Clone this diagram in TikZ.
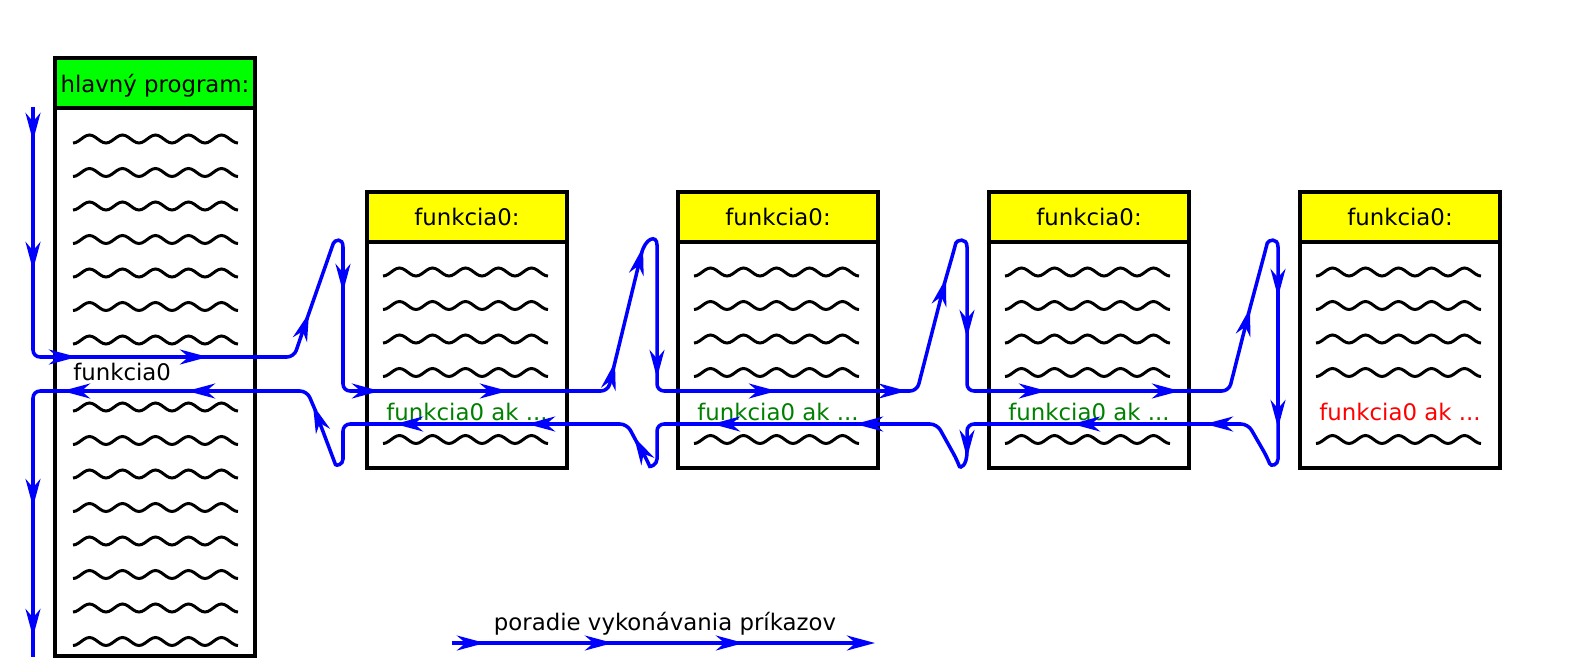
\documentclass[tikz,border=0pt]{standalone}
\usepackage{fontspec}
\setmainfont{DejaVu Sans}
\usetikzlibrary{arrows.meta}
\definecolor{headgreen}{RGB}{0,255,0}
\definecolor{headyellow}{RGB}{255,255,0}
\definecolor{okgreen}{RGB}{0,128,0}
\tikzset{
  box/.style={line width=2pt},
  flow/.style={draw=blue, line width=2pt, rounded corners=4pt, shorten <=-4pt},
  flowtip/.style={-{Stealth[length=16pt,width=8.5pt,inset=5pt]}},
  wavy/.style={line width=1.7pt},
  lbl/.style={font=\fontsize{13}{16}\selectfont, anchor=base, inner sep=0pt},
}
\newcommand{\wavyline}[2]{\draw[wavy] plot[domain=0:165,samples=61,smooth] ({#1+\x},{#2+4*cos(10.909*\x)});}

\begin{document}
\begin{tikzpicture}[x=0.02cm, y=-0.02cm]
\useasboundingbox (0,0) rectangle (1575,669);
\draw[box, fill=headgreen] (55,58) rectangle (255,108);
\draw[box] (55,108) rectangle (255,656);
\node[lbl] (main) at (155,92) {hlavný program:};
\node[lbl, anchor=base west] (call) at (73,380) {funkcia0};
\foreach \r in {0,1,2,3,4,5,6,8,9,10,11,12,13,14,15} {\wavyline{73}{139+33.5*\r}}
\foreach \k in {0,1,2,3}{
  \begin{scope}[shift={(311*\k,0)}]
  \draw[box, fill=headyellow] (367,192) rectangle (567,242);
  \draw[box] (367,242) rectangle (567,468);
  \node[lbl] (fhead\k) at (467,225) {funkcia0:};
  \node[lbl] (fcall\k) at (467,420) {\ifnum\k=3 \color{red}\else\color{okgreen}\fi funkcia0 ak ...};
  \foreach \r in {0,1,2,3,5} {\wavyline{383}{272+33.5*\r}}
  \end{scope}
}
% calls
\draw[flow,flowtip] (33,114) -- (33,141);
\draw[flow,flowtip] (33,141) -- (33,270);
\draw[flow,flowtip] (33,270) -- (33,357) -- (77,357);
\draw[flow,flowtip] (77,357) -- (208,357);
\draw[flow,flowtip] (208,357) -- (294,357) -- (309,313);
\draw[flow,flowtip] (309,313) -- (331,250) .. controls (334.5,240) and (343,237) .. (343,254) -- (343,292);
\draw[flow,flowtip] (343,292) -- (343,391) -- (380,391);
\draw[flow,flowtip] (380,391) -- (508,391);
\draw[flow,flowtip] (508,391) -- (608,391) -- (615,362);
\draw[flow,flowtip] (615,362) -- (643,247);
\draw[flow,flowtip] (643,247) .. controls (645,238) and (657,234) .. (657,252) -- (657,378);
\draw[flow,flowtip] (657,378) -- (657,391) -- (777,391);
\draw[flow,flowtip] (777,391) -- (907,391);
\draw[flow,flowtip] (907,391) -- (917,391) -- (946,278);
\draw[flow,flowtip] (946,278) -- (954,250) .. controls (956.6,240) and (967,237) .. (967,254) -- (967,338);
\draw[flow,flowtip] (967,338) -- (967,391) -- (1047,391);
\draw[flow,flowtip] (1047,391) -- (1180,391);
\draw[flow,flowtip] (1180,391) -- (1229,391) -- (1250,308);
\draw[flow,flowtip] (1250,308) -- (1265.5,250) .. controls (1268,240) and (1278,237) .. (1278,254) -- (1278,297);
\draw[flow,flowtip] (1278,297) -- (1278,428);
% returns
\draw[flow,flowtip] (1278,428) -- (1278,452) .. controls (1278,465) and (1271,467) .. (1267,457) -- (1248,424) -- (1205,424);
\draw[flow,flowtip] (1205,424) -- (1072,424);
\draw[flow,flowtip] (1072,424) -- (967,424) -- (967,458);
\draw[flow,flowtip] (967,458) .. controls (967,467) and (960,468) .. (957,460) -- (937,424) -- (855,424);
\draw[flow,flowtip] (855,424) -- (712,424);
\draw[flow,flowtip] (712,424) -- (657,424) -- (657,452) .. controls (657,465) and (650,467) .. (647,460) -- (634,437);
\draw[flow,flowtip] (634,437) -- (627,424) -- (527,424);
\draw[flow,flowtip] (527,424) -- (395,424);
\draw[flow,flowtip] (395,424) -- (343,424) -- (343,452) .. controls (343,465) and (336,466) .. (333,458) -- (313,405);
\draw[flow,flowtip] (313,405) -- (307,391) -- (187,391);
\draw[flow,flowtip] (187,391) -- (62,391);
\draw[flow,flowtip] (62,391) -- (33,391) -- (33,507);
\draw[flow,flowtip] (33,507) -- (33,637);
\draw[flow] (33,637) -- (33,657);
% legend
\draw[flow,flowtip] (459,643) -- (485,643);
\draw[flow,flowtip] (485,643) -- (613,643);
\draw[flow,flowtip] (613,643) -- (744,643);
\draw[flow,flowtip] (744,643) -- (875,643);
\node[lbl] (legend) at (665,630) {poradie vykonávania príkazov};
\end{tikzpicture}
\end{document}
